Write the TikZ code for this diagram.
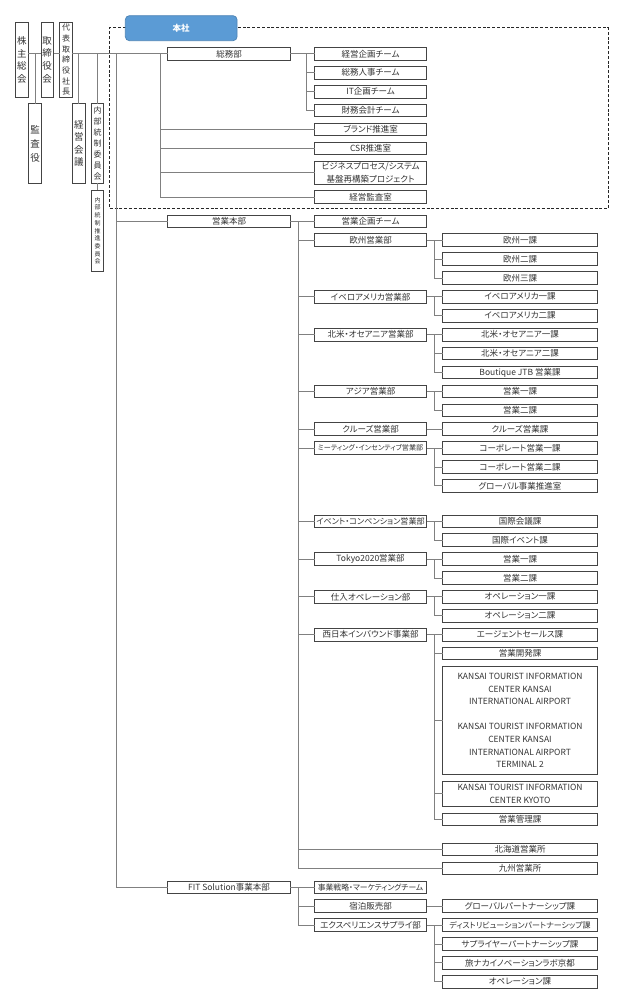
\documentclass[tikz,border=0pt]{standalone}
\usepackage{fontspec}
\setmainfont{Noto Sans CJK JP}[RawFeature=+palt]
\usetikzlibrary{positioning}
\definecolor{hqblue}{HTML}{5B9BD5}
\definecolor{boxline}{HTML}{444444}
\definecolor{wire}{HTML}{808080}
\definecolor{ink}{HTML}{333333}
\newcommand{\fsz}[2]{\fontsize{#1}{#2}\selectfont}

\begin{document}
\begin{tikzpicture}[
  x=1pt, y=-1pt,
  font=\fsz{8.5}{12.6},
  box/.style={draw=boxline, fill=white, text=ink, line width=0.75pt, outer sep=0pt,
              inner sep=1pt, minimum height=12.6pt, align=center},
  dept/.style={box, minimum width=122.5pt},
  sect/.style={box, minimum width=112.2pt},
  unit/.style={box, minimum width=154.6pt},
  tate/.style={box, minimum width=12.6pt, inner sep=0pt},
  hq/.style={draw=hqblue!85!black, fill=hqblue, text=white, rounded corners=4pt,
             line width=0.75pt, minimum width=111.7pt, minimum height=25pt,
             font=\fsz{8.5}{10}\bfseries},
  frame/.style={draw=black!85, dash pattern=on 3pt off 1.8pt, line width=1pt,
                minimum width=498.6pt, minimum height=180.3pt},
  link/.style={draw=wire, line width=0.75pt}]
\useasboundingbox (0,0) rectangle (628,1000);

% governance
\node[tate, minimum height=75pt, font=\fsz{9.5}{12.7}] (kabu) at (21.8,59.8) {株\\主\\総\\会};
\node[tate, minimum height=75pt, font=\fsz{9.5}{12.7}] (tori) at (47.2,59.8) {取\\締\\役\\会};
\node[tate, minimum height=75pt, font=\fsz{8}{10.7}] (dai) at (66,59.8) {代\\表\\取\\締\\役\\社\\長};
\node[tate, minimum height=79.6pt, font=\fsz{9.5}{14}] (kansa) at (35,143.5) {監\\査\\役};
\node[tate, minimum height=79.6pt, font=\fsz{9.5}{12.4}] (keiei) at (78.8,143.5) {経\\営\\会\\議};
\node[tate, minimum height=79.6pt, font=\fsz{8}{11}] (naibu) at (97.5,143.5) {内\\部\\統\\制\\委\\員\\会};
\node[tate, minimum height=81.7pt, font=\fsz{6}{7.7}] (suishin) at (97.5,230.8) {内\\部\\統\\制\\推\\進\\委\\員\\会};

% head office
\node[frame] (hqframe) at (359,118.15) {};
\node[hq] (honsha) at (181.2,28.2) {本社};
\node[dept] (soumu) at (229,53.8) {総務部};
\node[sect] (keikaku) at (370.6,53.8) {経営企画チーム};
\node[sect, below=6.3pt of keikaku] (jinji) {総務人事チーム};
\node[sect, below=6.3pt of jinji] (itkikaku) {IT企画チーム};
\node[sect, below=6.3pt of itkikaku] (zaimu) {財務会計チーム};
\node[sect, below=6.3pt of zaimu] (brand) {ブランド推進室};
\node[sect, below=6.3pt of brand] (csr) {CSR推進室};
\node[sect, below=6.3pt of csr, minimum height=23.4pt] (bpr) {ビジネスプロセス/システム\\基盤再構築プロジェクト};
\node[sect, below=6.3pt of bpr] (audit) {経営監査室};

% sales headquarters
\node[dept] (eigyo) at (229,221.2) {営業本部};
\node[sect] (skikaku) at (370.6,221.2) {営業企画チーム};
\node[sect] (europe) at (370.6,240.1) {欧州営業部};
\node[unit, right=16pt of europe] (eu1) {欧州一課};
\node[unit, below=6.3pt of eu1] (eu2) {欧州二課};
\node[unit, below=6.3pt of eu2] (eu3) {欧州三課};
\node[sect] (ibero) at (370.6,296.8) {イベロアメリカ営業部};
\node[unit, right=16pt of ibero] (ib1) {イベロアメリカ一課};
\node[unit, below=6.3pt of ib1] (ib2) {イベロアメリカ二課};
\node[sect] (namerica) at (370.6,334.6) {北米・オセアニア営業部};
\node[unit, right=16pt of namerica] (na1) {北米・オセアニア一課};
\node[unit, below=6.3pt of na1] (na2) {北米・オセアニア二課};
\node[unit, below=6.3pt of na2] (boutique) {Boutique JTB 営業課};
\node[sect] (asia) at (370.6,391.3) {アジア営業部};
\node[unit, right=16pt of asia] (as1) {営業一課};
\node[unit, below=6.3pt of as1] (as2) {営業二課};
\node[sect] (cruise) at (370.6,429.1) {クルーズ営業部};
\node[unit, right=16pt of cruise] (cr1) {クルーズ営業課};
\node[sect, font=\fsz{7.1}{12}] (mice) at (370.6,448) {ミーティング・インセンティブ営業部};
\node[unit, right=16pt of mice] (mi1) {コーポレート営業一課};
\node[unit, below=6.3pt of mi1] (mi2) {コーポレート営業二課};
\node[unit, below=6.3pt of mi2] (mi3) {グローバル事業推進室};
\node[sect, font=\fsz{8.1}{12}] (event) at (370.6,521.2) {イベント・コンベンション営業部};
\node[unit, right=16pt of event] (ev1) {国際会議課};
\node[unit, below=6.3pt of ev1] (ev2) {国際イベント課};
\node[sect] (tokyo) at (370.6,559) {Tokyo2020営業部};
\node[unit, right=16pt of tokyo] (tk1) {営業一課};
\node[unit, below=6.3pt of tk1] (tk2) {営業二課};
\node[sect] (shiire) at (370.6,596.8) {仕入オペレーション部};
\node[unit, right=16pt of shiire] (op1) {オペレーション一課};
\node[unit, below=6.3pt of op1] (op2) {オペレーション二課};
\node[sect] (inbound) at (370.6,634.6) {西日本インバウンド事業部};
\node[unit, right=16pt of inbound] (agent) {エージェントセールス課};
\node[unit, below=6.3pt of agent] (kaihatsu) {営業開発課};
\node[unit, below=6.3pt of kaihatsu, minimum height=108.6pt] (kix) {KANSAI TOURIST INFORMATION\\CENTER KANSAI\\INTERNATIONAL AIRPORT\\[12.6pt]KANSAI TOURIST INFORMATION\\CENTER KANSAI\\INTERNATIONAL AIRPORT\\TERMINAL 2};
\node[unit, below=6.3pt of kix, minimum height=25.6pt] (kyoto) {KANSAI TOURIST INFORMATION\\CENTER KYOTO};
\node[unit, below=6.3pt of kyoto] (kanri) {営業管理課};
\node[unit] (hokkaido) at (520,849.3) {北海道営業所};
\node[unit, below=6.3pt of hokkaido] (kyushu) {九州営業所};

% FIT solution
\node[dept] (fit) at (229,887.2) {FIT Solution事業本部};
\node[sect, font=\fsz{7.8}{12}] (marketing) at (370.6,887.2) {事業戦略・マーケティングチーム};
\node[sect] (shukuhaku) at (370.6,906.1) {宿泊販売部};
\node[unit, right=16pt of shukuhaku] (global) {グローバルパートナーシップ課};
\node[sect] (experience) at (370.6,925) {エクスペリエンスサプライ部};
\node[unit, right=16pt of experience, font=\fsz{8}{12}] (distrib) {ディストリビューションパートナーシップ課};
\node[unit, below=6.3pt of distrib] (supplier) {サプライヤーパートナーシップ課};
\node[unit, below=6.3pt of supplier] (tabinaka) {旅ナカイノベーションラボ京都};
\node[unit, below=6.3pt of tabinaka] (operation) {オペレーション課};

% buses
\coordinate (trunk) at (116.7,53.8);
\coordinate (hqbus) at (160,53.8);
\coordinate (gabus) at (306.3,53.8);
\coordinate (bus) at (298.3,0);
\coordinate (gbus) at (434.3,0);

% connectors
\draw[link] (kabu.east |- soumu) -- (tori.west |- soumu);
\draw[link] (tori.east |- soumu) -- (dai.west |- soumu);
\draw[link] (dai.east |- soumu) -- (soumu);
\draw[link] (kansa) -- (kansa |- soumu);
\draw[link] (keiei) -- (keiei |- soumu);
\draw[link] (naibu) -- (naibu |- soumu);
\draw[link] (naibu) -- (suishin);
\draw[link] (trunk) |- (fit);
\draw[link] (trunk |- eigyo) -- (eigyo);
\draw[link] (hqbus) |- (audit);
\foreach \n in {brand,csr,bpr} \draw[link] (hqbus |- \n) -- (\n);
\draw[link] (soumu) -- (keikaku);
\draw[link] (gabus) |- (zaimu);
\foreach \n in {jinji,itkikaku} \draw[link] (gabus |- \n) -- (\n);

\draw[link] (eigyo) -- (skikaku);
\draw[link] (bus |- eigyo) |- (kyushu);
\foreach \n in {europe,ibero,namerica,asia,cruise,mice,event,tokyo,shiire,inbound,hokkaido}
  \draw[link] (bus |- \n) -- (\n);
\foreach \d/\a/\z in {europe/eu1/eu3,ibero/ib1/ib2,namerica/na1/boutique,asia/as1/as2,
    mice/mi1/mi3,event/ev1/ev2,tokyo/tk1/tk2,shiire/op1/op2,inbound/agent/kanri,experience/distrib/operation}{
  \draw[link] (\d) -- (\a);
  \draw[link] (gbus |- \a) |- (\z);
}
\foreach \n in {eu2,na2,mi2,kaihatsu,kix,kyoto,supplier,tabinaka}
  \draw[link] (gbus |- \n) -- (\n);
\draw[link] (cruise) -- (cr1);

\draw[link] (fit) -- (marketing);
\draw[link] (bus |- fit) |- (experience);
\draw[link] (bus |- shukuhaku) -- (shukuhaku);
\draw[link] (shukuhaku) -- (global);
\end{tikzpicture}
\end{document}
